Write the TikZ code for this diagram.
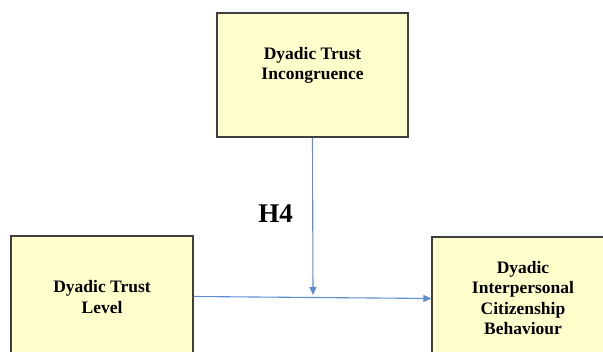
\documentclass[tikz,border=0pt]{standalone}
\usepackage{fontspec}
\setmainfont{Liberation Serif}
\usetikzlibrary{arrows.meta}
\definecolor{boxfill}{HTML}{FFFFCC}
\definecolor{boxline}{HTML}{3F3F3F}
\definecolor{linkblue}{HTML}{5B8FD0}
\begin{document}
\begin{tikzpicture}[x=1pt,y=1pt,
  construct/.style={draw=boxline, line width=1.4pt, fill=boxfill, inner sep=0pt},
  boxtext/.style={align=center, font=\fontsize{17.5}{20.5}\selectfont\bfseries, text=black},
  link/.style={draw=linkblue, line width=1.1pt, -{Triangle[length=8pt,width=7pt]}}]
  \useasboundingbox (0,0) rectangle (603,352);
  \begin{scope}
    \clip (0,0) rectangle (603,352);
    % construct boxes
    \node[construct, minimum width=191pt, minimum height=124pt] (incong) at (312.5,277) {};
    \node[construct, minimum width=182pt, minimum height=124pt] (level) at (102,54) {};
    \node[construct, minimum width=180pt, minimum height=123pt] (dicb) at (522,53.5) {};
    % box labels
    \node[boxtext] (incongText) at (312.5,286.5) {Dyadic Trust\\Incongruence};
    \node[boxtext] (levelText) at (102,55) {Dyadic Trust\\Level};
    \node[boxtext] (dicbText) at (523,54) {Dyadic\\Interpersonal\\Citizenship\\Behaviour};
    % moderation path
    \coordinate (modEnd) at (313,57);
    \draw[link] (incong.south) -- (modEnd);
    \draw[link] ([yshift=1.5pt]level.east) -- (dicb.west);
    \node[font=\fontsize{27}{30}\selectfont\bfseries] (h4) at (275.5,138.7) {H4};
  \end{scope}
\end{tikzpicture}
\end{document}
